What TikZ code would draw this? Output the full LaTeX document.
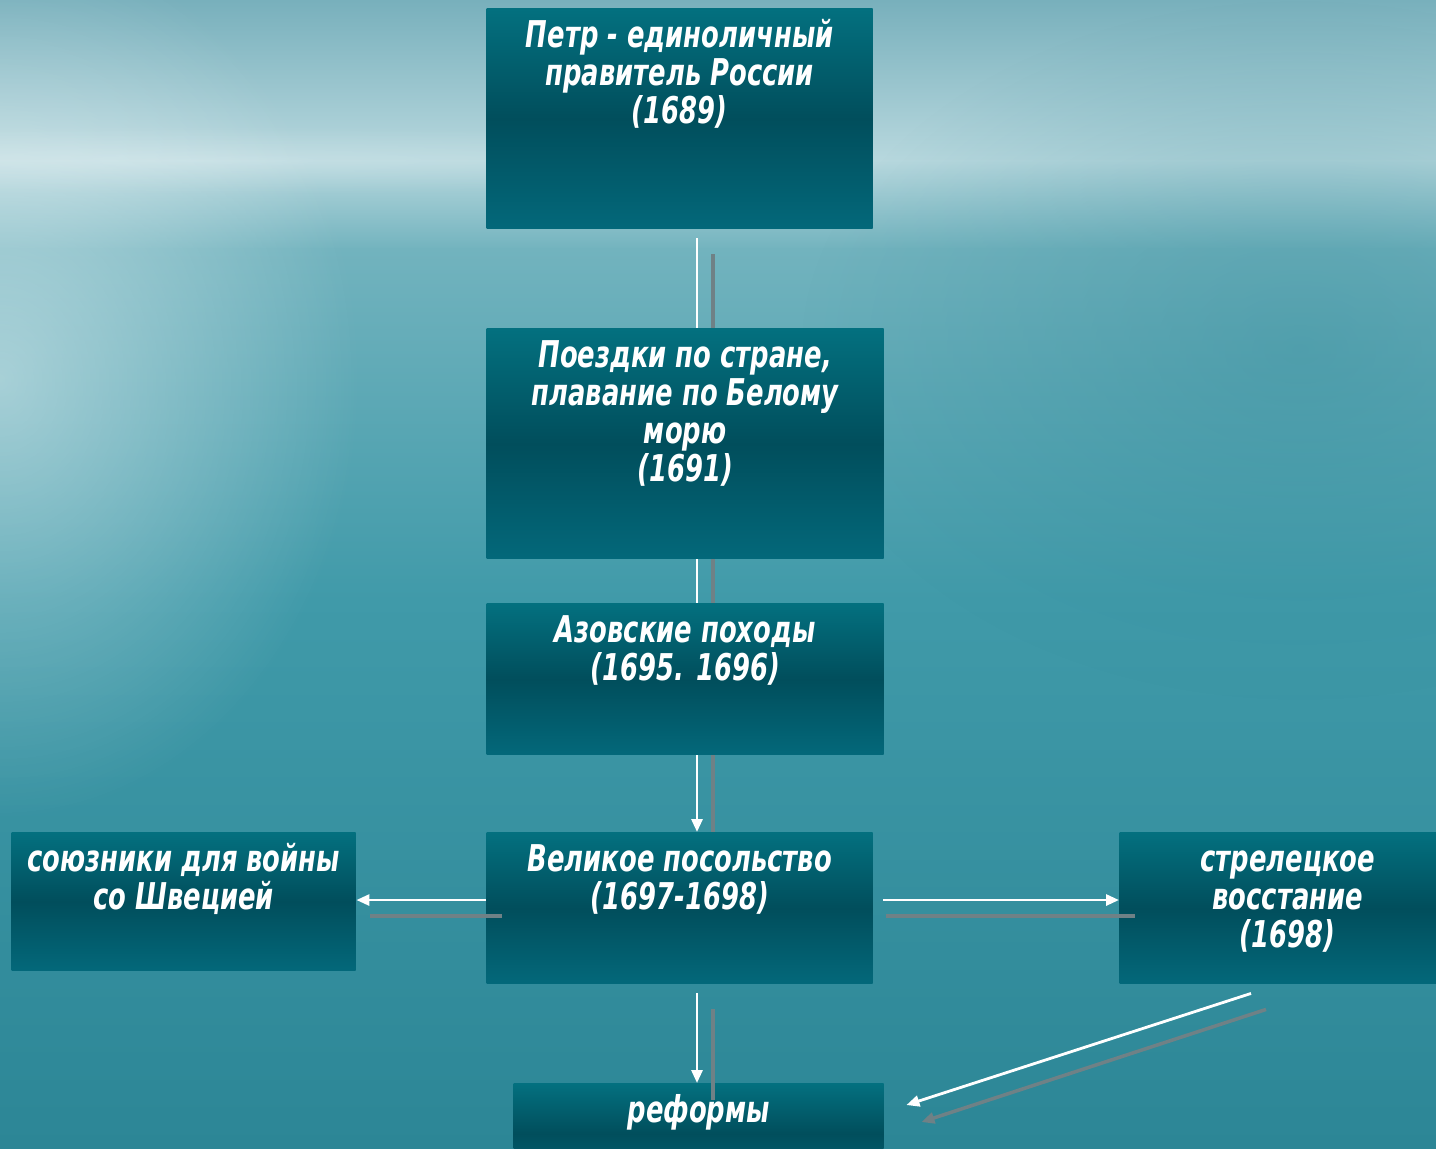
\documentclass[tikz,border=0pt]{standalone}
\usepackage{fontspec}
\newfontfamily\boxfont{DejaVu Sans}[FakeStretch=0.7]
\usetikzlibrary{arrows.meta,fadings}
\tikzfading[name=glow, inner color=transparent!0, outer color=transparent!100]
\definecolor{skytop}{HTML}{78B0BC}
\definecolor{horizon}{HTML}{B8D8DE}
\definecolor{seatop}{HTML}{72B3BE}
\definecolor{seamid}{HTML}{409AA9}
\definecolor{seabot}{HTML}{2C8696}
\definecolor{boxtop}{HTML}{03707F}
\definecolor{boxmid}{HTML}{014E5C}
\definecolor{boxbot}{HTML}{03687A}
\definecolor{shadowgray}{HTML}{6F8186}
\tikzset{event/.style={inner sep=0pt, anchor=north west, text=white,
           top color=boxtop, bottom color=boxbot, middle color=boxmid,
           font=\boxfont\bfseries\itshape\fontsize{10.5}{10.8}\selectfont},
         link/.style={white, line width=0.8pt},
         shadowlink/.style={shadowgray, line width=1pt},
         tip/.style={-{Triangle[length=1.3mm,width=1.1mm]}}}
\newcommand{\boxtxt}[3]{\begin{minipage}[t][#2][t]{#1}\centering\vspace*{1.0mm}\rule{0pt}{8.2pt}#3\end{minipage}}

\begin{document}
\begin{tikzpicture}
   \useasboundingbox (0,0) rectangle (14.36,-11.48);
   \clip (0,0) rectangle (14.36,-11.48);
   % sea and sky
   \fill[top color=skytop, bottom color=horizon] (0,0) rectangle (14.36,-1.62);
   \fill[top color=horizon, bottom color=seatop] (0,-1.6) rectangle (14.36,-2.5);
   \fill[top color=seatop, bottom color=seamid] (0,-2.48) rectangle (14.36,-6);
   \fill[top color=seamid, bottom color=seabot] (0,-5.98) rectangle (14.36,-11.48);
   \fill[white, opacity=0.45, path fading=glow] (0,-3.8) ellipse (3.6 and 4.4);
   \fill[white, opacity=0.18, path fading=glow] (2,-1.6) ellipse (7 and 0.35);
   \fill[seabot, opacity=0.35, path fading=glow] (13,-3.5) ellipse (5 and 3.5);

   % boxes
   \node[event] (petr)    at (4.86,-0.08)  {\boxtxt{3.86cm}{2.20cm}{Петр - единоличный\\ правитель России\\ (1689)}};
   \node[event] (poezdki) at (4.86,-3.28)  {\boxtxt{3.97cm}{2.30cm}{Поездки по стране,\\ плавание по Белому\\ морю\\ (1691)}};
   \node[event] (azov)    at (4.86,-6.03)  {\boxtxt{3.97cm}{1.51cm}{Азовские походы\\ (1695. 1696)}};
   \node[event] (velikoe) at (4.86,-8.32)  {\boxtxt{3.86cm}{1.51cm}{Великое посольство\\ (1697-1698)}};
   \node[event] (soyuz)   at (0.11,-8.32)  {\boxtxt{3.44cm}{1.38cm}{союзники для войны\\ со Швецией}};
   \node[event] (strel)   at (11.19,-8.32) {\boxtxt{3.36cm}{1.51cm}{стрелецкое\\ восстание\\ (1698)}};
   \node[event] (reformy) at (5.13,-10.83) {\boxtxt{3.70cm}{1.00cm}{реформы}};

   \coordinate (axis)  at (6.97,0);
   \coordinate (saxis) at (7.13,0);
   \coordinate (row)   at (0,-9.00);
   \coordinate (srow)  at (0,-9.16);

   % shadows
   \draw[shadowlink] ([yshift=-2.5mm]petr.south -| saxis) -- (poezdki.north -| saxis);
   \draw[shadowlink] (poezdki.south -| saxis) -- (azov.north -| saxis);
   \draw[shadowlink] (azov.south -| saxis) -- (velikoe.north -| saxis);
   \draw[shadowlink] ([xshift=1.6mm]velikoe.west |- srow) -- ([xshift=1.4mm]soyuz.east |- srow);
   \draw[shadowlink] ([xshift=1.3mm]velikoe.east |- srow) -- ([xshift=1.6mm]strel.west |- srow);
   \draw[shadowlink] ([yshift=-2.5mm]velikoe.south -| saxis) -- ([yshift=-1.7mm]reformy.north -| saxis);
   \draw[shadowlink,tip] ([xshift=14.7mm,yshift=-2.5mm]strel.south west) -- ([xshift=3.7mm,yshift=-3.9mm]reformy.north east);

   % arrows
   \draw[link] ([yshift=-0.9mm]petr.south -| axis) -- (poezdki.north -| axis);
   \draw[link] (poezdki.south -| axis) -- (azov.north -| axis);
   \draw[link,tip] (azov.south -| axis) -- (velikoe.north -| axis);
   \draw[link,tip] (velikoe.west |- row) -- (soyuz.east |- row);
   \draw[link,tip] ([xshift=1mm]velikoe.east |- row) -- (strel.west |- row);
   \draw[link,tip] ([yshift=-0.9mm]velikoe.south -| axis) -- (reformy.north -| axis);
   \draw[link,tip] ([xshift=13.2mm,yshift=-0.9mm]strel.south west) -- ([xshift=2.2mm,yshift=-2.2mm]reformy.north east);
\end{tikzpicture}
\end{document}
